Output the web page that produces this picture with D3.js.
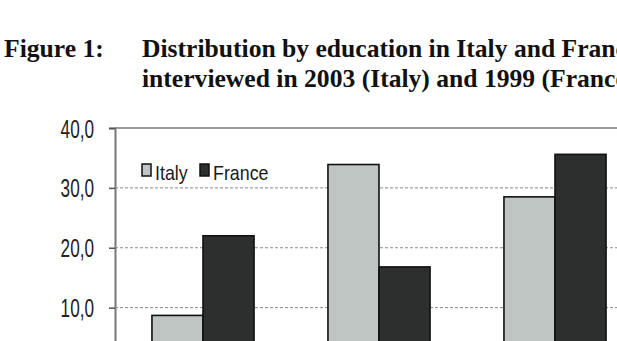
<!DOCTYPE html>
<html>
<head>
<meta charset="utf-8">
<script src="https://cdn.jsdelivr.net/npm/d3@7"></script>
<style>
  body { margin: 0; background: #fff; }
  svg { display: block; }
</style>
</head>
<body>
<div id="chart"></div>
<script>
// values (x labels sit below the visible area)
const categories = ["Primary", "Secondary", "Tertiary"];
const seriesNames = ["Italy", "France"];
const italy = [8.7, 33.9, 28.5];
const france = [22.0, 16.8, 35.6];
const yTicks = [10, 20, 30, 40];

const W = 617, H = 341;
const colors = { Italy: "#bfc5c3", France: "#2d2f2e" };

var svg = d3.select("#chart").append("svg")
    .attr("width", W)
    .attr("height", H);

// title
var title = svg.append("g")
    .attr("font-family", "'Liberation Serif', 'Times New Roman', serif")
    .attr("font-weight", "bold")
    .attr("font-size", 25.6)
    .attr("fill", "#111");
title.append("text").attr("x", 4).attr("y", 57).text("Figure 1:");
title.append("text").attr("x", 142).attr("y", 57).text("Distribution by education in Italy and France");
title.append("text").attr("x", 142).attr("y", 87).text("interviewed in 2003 (Italy) and 1999 (France)");

var margin = { top: 128, left: 115 };
var plotW = 528, plotH = 239.5;

var x = d3.scaleBand().domain(categories)
    .range([margin.left, margin.left + plotW])
    .paddingInner(0.42).paddingOuter(0.21);
var xs = d3.scaleBand().domain(seriesNames).range([0, x.bandwidth()]);
var y = d3.scaleLinear().domain([0, 40]).range([margin.top + plotH, margin.top]);

// gridlines
svg.append("g")
    .selectAll("line")
    .data(yTicks.filter(d => d < 40))
    .enter().append("line")
        .attr("x1", margin.left).attr("x2", margin.left + plotW)
        .attr("y1", d => y(d)).attr("y2", d => y(d))
        .attr("stroke", "#8a8a8a")
        .attr("stroke-width", 1)
        .attr("stroke-dasharray", "3,2");

// top border of plot area
svg.append("line")
    .attr("x1", margin.left).attr("x2", margin.left + plotW)
    .attr("y1", y(40)).attr("y2", y(40))
    .attr("stroke", "#9a9a9a")
    .attr("stroke-width", 2);

// bars
var rows = categories.map((c, i) => ({ cat: c, values: [
    { name: "Italy", v: italy[i] },
    { name: "France", v: france[i] }
] }));

svg.append("g").selectAll("g")
    .data(rows)
    .enter().append("g")
        .attr("transform", d => "translate(" + x(d.cat) + ",0)")
    .selectAll("rect")
    .data(d => d.values)
    .enter().append("rect")
        .attr("x", d => xs(d.name))
        .attr("y", d => y(d.v))
        .attr("width", xs.bandwidth())
        .attr("height", d => y(0) - y(d.v))
        .attr("fill", d => colors[d.name])
        .attr("stroke", "#111")
        .attr("stroke-width", 1.6);

// y axis
var yAxis = svg.append("g")
    .attr("transform", "translate(" + margin.left + ",0)")
    .call(d3.axisLeft(y).tickValues(yTicks).tickSize(6).tickPadding(0)
        .tickFormat(d => d3.format(".1f")(d).replace(".", ",")));
yAxis.select(".domain").attr("stroke", "#777").attr("stroke-width", 2);
yAxis.selectAll(".tick line").attr("stroke", "#555").attr("stroke-width", 1.5);
yAxis.selectAll(".tick text")
    .attr("x", null).attr("dy", null)
    .attr("text-anchor", "end")
    .attr("font-family", "'Liberation Sans', Arial, sans-serif")
    .attr("font-size", 26)
    .attr("fill", "#222")
    .attr("transform", "translate(-21,9) scale(0.66,1)");

// legend
var legend = svg.append("g")
    .attr("font-family", "'Liberation Sans', Arial, sans-serif")
    .attr("font-size", 21)
    .attr("fill", "#1a1a1a");
var legendX = [142, 200];
seriesNames.forEach((s, i) => {
    var g = legend.append("g").attr("transform", "translate(" + legendX[i] + ",164)");
    g.append("rect")
        .attr("width", 9).attr("height", 12)
        .attr("fill", colors[s])
        .attr("stroke", "#111").attr("stroke-width", 1.5);
    g.append("text")
        .attr("x", 13).attr("y", 15.5)
        .attr("transform", "scale(0.85,1)")
        .attr("transform-origin", "13 0")
        .text(s);
});
</script>
</body>
</html>
